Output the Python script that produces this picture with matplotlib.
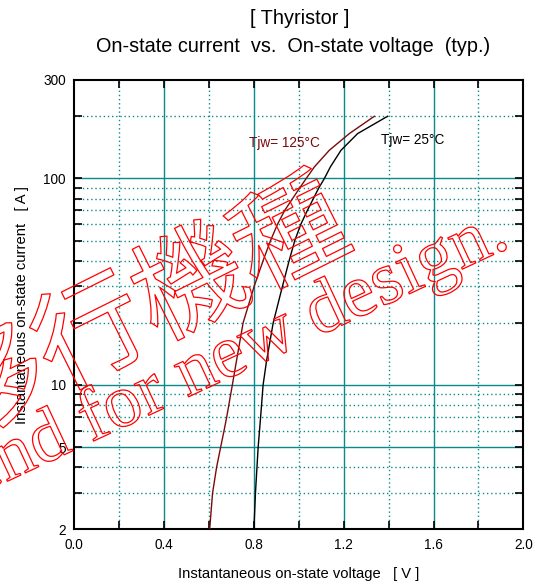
import matplotlib
matplotlib.use("Agg")
import matplotlib.pyplot as plt
import matplotlib.patheffects as pe
from matplotlib.ticker import FixedLocator, NullFormatter, FixedFormatter

plt.rcParams['font.family'] = ['Liberation Sans', 'DejaVu Sans']

# Tjw = 125 degC curve
i_125 = [2, 3, 4, 5, 6, 7, 10, 13, 20, 30, 40, 50, 60, 70, 90, 100, 114, 137, 165, 200]
v_125 = [0.603, 0.616, 0.634, 0.652, 0.667, 0.679, 0.704, 0.722, 0.752, 0.801,
         0.841, 0.874, 0.905, 0.937, 1.004, 1.033, 1.07, 1.136, 1.225, 1.336]

# Tjw = 25 degC curve
i_25 = [2, 3, 5, 7, 10, 13, 20, 30, 40, 50, 60, 70, 90, 100, 114, 137, 165, 200]
v_25 = [0.80, 0.807, 0.819, 0.83, 0.841, 0.856, 0.886, 0.927, 0.957, 0.982,
        1.009, 1.038, 1.089, 1.114, 1.141, 1.188, 1.262, 1.395]

x_ticks = [0.0, 0.4, 0.8, 1.2, 1.6, 2.0]
x_labels = ["0.0", "0.4", "0.8", "1.2", "1.6", "2.0"]
x_minor = [0.2, 0.6, 1.0, 1.4, 1.8]
y_major = [2, 5, 10, 100, 300]
y_labels = ["2", "5", "10", "100", "300"]
y_minor = [3, 4, 6, 7, 8, 9, 20, 30, 40, 50, 60, 70, 80, 90, 200]

teal = "#0a8a8a"
dark_red = "#7a0a0a"

fig = plt.figure(figsize=(5.41, 5.86), dpi=100, facecolor='white')
ax = fig.add_axes([0.1373, 0.0968, 0.830, 0.7667])

ax.set_yscale("log")
ax.set_xlim(0, 2.0)
ax.set_ylim(2, 300)

# grid: solid at the labelled values, dotted in between
for x in x_ticks[1:-1]:
    ax.axvline(x, color=teal, lw=1.0, zorder=1)
for x in x_minor:
    ax.axvline(x, color=teal, lw=1.0, ls=(0, (1, 2)), zorder=1)
for y in y_major[1:-1]:
    ax.axhline(y, color=teal, lw=1.0, zorder=1)
for y in y_minor:
    ax.axhline(y, color=teal, lw=1.0, ls=(0, (1, 2)), zorder=1)

ax.plot(v_125, i_125, color=dark_red, lw=1.0, zorder=3)
ax.plot(v_25, i_25, color="black", lw=1.0, zorder=3)

ax.text(0.938, 149, "Tjw= 125°C", color=dark_red, fontsize=9.8, ha='center', va='center')
ax.text(1.508, 153, "Tjw= 25°C", color="black", fontsize=9.8, ha='center', va='center')

ax.xaxis.set_major_locator(FixedLocator(x_ticks))
ax.xaxis.set_major_formatter(FixedFormatter(x_labels))
ax.xaxis.set_minor_locator(FixedLocator(x_minor))
ax.xaxis.set_minor_formatter(NullFormatter())
ax.yaxis.set_major_locator(FixedLocator(y_major))
ax.yaxis.set_major_formatter(FixedFormatter(y_labels))
ax.yaxis.set_minor_locator(FixedLocator(y_minor))
ax.yaxis.set_minor_formatter(NullFormatter())

ax.tick_params(axis='both', which='both', direction='in', top=True, right=True,
               length=5.5, width=1.2, labelsize=9.8, color='black')
ax.tick_params(axis='x', which='major', pad=6)
ax.tick_params(axis='y', which='major', pad=6)
for s in ax.spines.values():
    s.set_linewidth(1.5)

ax.set_xlabel("Instantaneous on-state voltage   [ V ]", fontsize=10.6, labelpad=11)
ax.set_ylabel("Instantaneous on-state current   [ A ]", fontsize=10.6, labelpad=10)

fig.text(0.554, 0.969, "[ Thyristor ]", fontsize=14.3, ha='center', va='center')
fig.text(0.5416, 0.921, "On-state current  vs.  On-state voltage  (typ.)",
         fontsize=14.3, ha='center', va='center')

# red outlined watermark
outline = [pe.Stroke(linewidth=0.9, foreground='red')]
fig.text(142 / 541, 1 - 313 / 586, "移行機種", fontsize=80, rotation=26.5,
         rotation_mode='anchor', ha='center', va='center', color=(0, 0, 0, 0),
         family=['Noto Sans CJK JP', 'DejaVu Sans'], path_effects=outline, zorder=10)
fig.text(512 / 541, 1 - 246 / 586, "Not recommend for new design.", fontsize=54,
         rotation=25, rotation_mode='anchor', ha='right', va='baseline',
         color=(0, 0, 0, 0), family=['Liberation Serif', 'DejaVu Serif'],
         path_effects=outline, zorder=10)

fig.savefig("out.png", dpi=100)
